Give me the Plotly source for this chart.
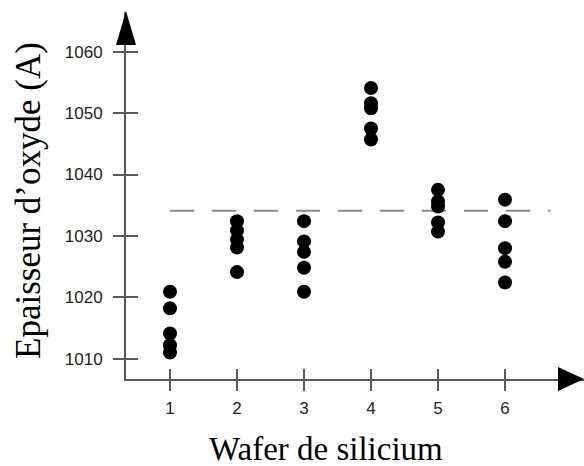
import plotly.graph_objects as go

# ---- data ----
wafers = [1, 2, 3, 4, 5, 6]
wafer_1 = [1020.9, 1018.2, 1014.1, 1012.2, 1011.0]
wafer_2 = [1032.4, 1030.9, 1029.4, 1028.1, 1024.1]
wafer_3 = [1032.4, 1029.1, 1027.4, 1024.8, 1020.9]
wafer_4 = [1054.1, 1051.6, 1050.8, 1047.5, 1045.7]
wafer_5 = [1037.5, 1035.6, 1034.8, 1032.2, 1030.7]
wafer_6 = [1035.9, 1032.4, 1028.0, 1025.8, 1022.4]
grand_mean = 1034.1
mean_line_x = [1.0, 6.68]
y_ticks = [1010, 1020, 1030, 1040, 1050, 1060]
x_title = "Wafer de silicium"
y_title = "Epaisseur d\u2019oxyde (A)"

series = [wafer_1, wafer_2, wafer_3, wafer_4, wafer_5, wafer_6]

W, H = 584, 466
L, R, T, B = 126, 0, 12, 87
PW, PH = W - L - R, H - T - B

def px(xp):
    return (xp - L) / PW

def py(yp):
    return (H - B - yp) / PH

AXC = "#5a5a5a"
XR = [0.3433, 7.179]
YR = [1006.69, 1066.47]

fig = go.Figure()

xs, ys = [], []
for w, vals in zip(wafers, series):
    xs += [w] * len(vals)
    ys += vals

fig.add_trace(go.Scatter(
    x=mean_line_x, y=[grand_mean, grand_mean], mode="lines",
    line=dict(color="#8a8a8a", width=2, dash="24px,18px"),
    hoverinfo="skip", showlegend=False))

fig.add_trace(go.Scatter(
    x=xs, y=ys, mode="markers",
    marker=dict(color="black", size=14, line=dict(width=0)),
    showlegend=False))

# helper trace for overlay axes (inside ticks)
fig.add_trace(go.Scatter(x=[None], y=[None], xaxis="x2", yaxis="y2",
                         showlegend=False, hoverinfo="skip"))

tickfont = dict(family="Liberation Sans, Arial, sans-serif", size=17, color="#222222")

fig.update_layout(
    width=W, height=H,
    margin=dict(l=L, r=R, t=T, b=B, pad=0),
    paper_bgcolor="white", plot_bgcolor="white",
    xaxis=dict(range=XR, tickvals=wafers, ticktext=[str(w) for w in wafers],
               showgrid=False, zeroline=False, showline=True, linecolor=AXC, linewidth=2,
               ticks="outside", ticklen=10, tickwidth=2, tickcolor=AXC,
               tickfont=tickfont, ticklabelstandoff=3),
    yaxis=dict(range=YR, tickvals=y_ticks, ticktext=[str(v) for v in y_ticks],
               showgrid=False, zeroline=False, showline=True, linecolor=AXC, linewidth=2,
               ticks="outside", ticklen=11, tickwidth=2, tickcolor=AXC,
               tickfont=tickfont, ticklabelstandoff=7),
    xaxis2=dict(overlaying="x", matches="x", range=XR, tickvals=wafers, showticklabels=False,
                showgrid=False, zeroline=False, showline=False,
                ticks="inside", ticklen=10, tickwidth=2, tickcolor=AXC, side="bottom"),
    yaxis2=dict(overlaying="y", matches="y", range=YR, tickvals=y_ticks, showticklabels=False,
                showgrid=False, zeroline=False, showline=False,
                ticks="inside", ticklen=12, tickwidth=2, tickcolor=AXC, side="left"),
    showlegend=False,
)

# axis arrow heads
fig.add_shape(type="path", xref="paper", yref="paper",
              path=f"M {px(126)} {py(11)} L {px(116)} {py(45)} L {px(136)} {py(45)} Z",
              fillcolor="black", line=dict(width=0))
fig.add_shape(type="path", xref="paper", yref="paper",
              path=f"M {px(584)} {py(379)} L {px(558)} {py(367)} L {px(558)} {py(391)} Z",
              fillcolor="black", line=dict(width=0))

serif = "Liberation Serif, Times New Roman, serif"
fig.add_annotation(text=x_title, xref="paper", yref="paper",
                   x=px(326), y=py(449), xanchor="center", yanchor="middle",
                   showarrow=False, font=dict(family=serif, size=33, color="black"))
fig.add_annotation(text=y_title, xref="paper", yref="paper",
                   x=px(29), y=py(201), xanchor="center", yanchor="middle", textangle=-90,
                   showarrow=False, font=dict(family=serif, size=35, color="black"))

fig.write_html("out.html", config={"displayModeBar": False},
               post_script="document.body.style.margin='0';")
